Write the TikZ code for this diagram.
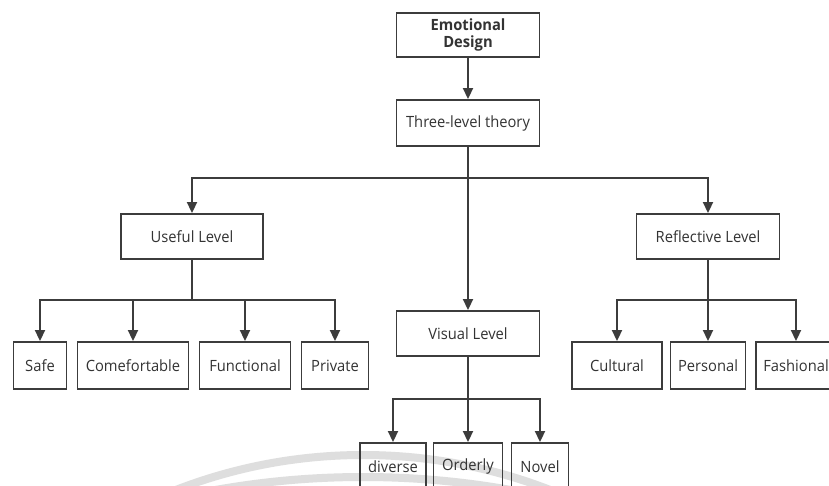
\documentclass[tikz,border=0pt]{standalone}
\usepackage{fontspec}
\setmainfont{Open Sans}[FakeStretch=0.95]
\usetikzlibrary{arrows.meta}
\definecolor{ink}{HTML}{333333}
\definecolor{edge}{HTML}{3C3C3C}
\definecolor{mark}{HTML}{DEDEDE}
\tikzset{
  box/.style={draw=edge, line width=1.9pt, text=ink, inner sep=0pt,
    font=\fontsize{15.5}{17}\selectfont, align=center},
  link/.style={draw=edge, line width=1.9pt,
    -{Triangle[length=11pt,width=10pt]}},
  plain/.style={draw=edge, line width=1.9pt},
  band/.style={draw=mark, line width=8pt}
}
\begin{document}
\begin{tikzpicture}[x=1pt, y=-1pt]
\useasboundingbox (0,0) rectangle (829,486);
\fill[white] (0,0) rectangle (829,486);

% faint seal rings behind the lower part
\begin{scope}
  \clip (0,0) rectangle (829,486);
  \draw[band] (363,971) circle[radius=516pt];
  \draw[band] (363,1313) circle[radius=836pt];
\end{scope}

% root and theory
\node[box, minimum width=143pt, minimum height=44pt,
  font=\fontsize{15.5}{17}\selectfont\bfseries] (emo) at (468,35) {Emotional\\Design};
\node[box, minimum width=143pt, minimum height=46pt] (three) at (468,123) {Three-level theory};

% three levels
\node[box, minimum width=142pt, minimum height=45pt] (useful) at (192,236.5) {Useful Level};
\node[box, minimum width=143pt, minimum height=45pt] (visual) at (468,333.5) {Visual Level};
\node[box, minimum width=143pt, minimum height=45pt] (reflect) at (708,236.5) {Reflective Level};

% useful level items
\node[box, minimum width=53pt, minimum height=47pt] (safe) at (40,365.5) {Safe};
\node[box, minimum width=111pt, minimum height=47pt] (comf) at (133,365.5) {Comefortable};
\node[box, minimum width=91pt, minimum height=47pt] (func) at (245,365.5) {Functional};
\node[box, minimum width=67pt, minimum height=47pt] (priv) at (335,365.5) {Private};

% reflective level items
\node[box, minimum width=90pt, minimum height=47pt] (cult) at (617,365.5) {Cultural};
\node[box, minimum width=75pt, minimum height=47pt] (pers) at (708,365.5) {Personal};
\node[box, minimum width=80pt, minimum height=47pt] (fash) at (796,365.5) {Fashional};

% visual level items
\node[box, minimum width=66pt, minimum height=47pt] (div) at (393,466.5) {diverse};
\node[box, minimum width=69pt, minimum height=47pt] (ord) at (468,466.5) {Orderly};
\node[box, minimum width=57pt, minimum height=47pt] (nov) at (540,466.5) {Novel};

% connectors
\draw[link] (emo) -- (three);
\coordinate (jt) at (468,178);
\draw[link] (three.south) -- (visual.north);
\draw[link] (jt) -| (useful.north);
\draw[link] (jt) -| (reflect.north);

\coordinate (ju) at (192,300);
\draw[plain] (useful.south) -- (ju);
\draw[link] (ju) -| (safe.north);
\draw[link] (ju) -| (comf.north);
\draw[link] (ju) -| (func.north);
\draw[link] (ju) -| (priv.north);

\coordinate (jr) at (708,300);
\draw[link] (reflect.south) -- (pers.north);
\draw[link] (jr) -| (cult.north);
\draw[link] (jr) -| (fash.north);

\coordinate (jv) at (468,399);
\draw[plain] (visual.south) -- (jv);
\draw[link] (jv) -| (div.north);
\draw[link] (jv) -| (ord.north);
\draw[link] (jv) -| (nov.north);
\end{tikzpicture}
\end{document}
